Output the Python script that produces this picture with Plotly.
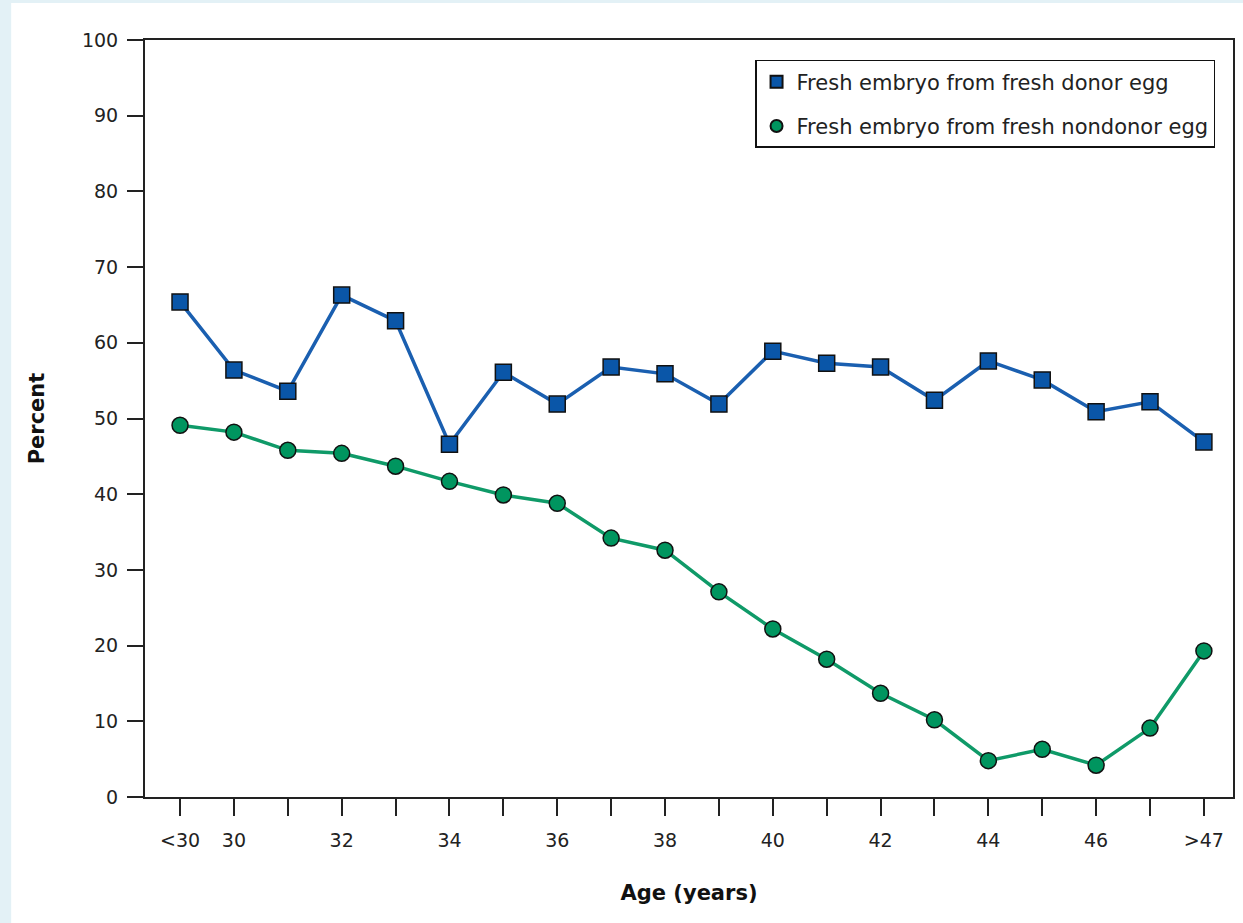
import plotly.graph_objects as go

age_labels = ["<30", "30", "31", "32", "33", "34", "35", "36", "37", "38", "39",
              "40", "41", "42", "43", "44", "45", "46", "47", ">47"]
tick_labels = ["<30", "30", "", "32", "", "34", "", "36", "", "38", "",
               "40", "", "42", "", "44", "", "46", "", ">47"]
donor = [65.4, 56.4, 53.6, 66.3, 62.9, 46.6, 56.1, 51.9, 56.8, 55.9, 51.9,
         58.9, 57.3, 56.8, 52.4, 57.6, 55.1, 50.9, 52.2, 46.9]
nondonor = [49.1, 48.2, 45.8, 45.4, 43.7, 41.7, 39.9, 38.8, 34.2, 32.6, 27.1,
            22.2, 18.2, 13.7, 10.2, 4.8, 6.3, 4.2, 9.1, 19.3]
series_names = ["Fresh embryo from fresh donor egg",
                "Fresh embryo from fresh nondonor egg"]

xi = list(range(len(age_labels)))
font = "DejaVu Sans"

blue_line, blue_fill = "#1a5fb0", "#0a56a8"
green_line, green_fill = "#0f9a68", "#00955f"
edge = dict(color="#111111", width=1.5)

fig = go.Figure()
fig.add_trace(go.Scatter(
    x=xi, y=donor, mode="lines+markers", name=series_names[0], showlegend=False,
    line=dict(color=blue_line, width=3.5),
    marker=dict(symbol="square", size=16, color=blue_fill, line=edge),
))
fig.add_trace(go.Scatter(
    x=xi, y=nondonor, mode="lines+markers", name=series_names[1], showlegend=False,
    line=dict(color=green_line, width=3.5),
    marker=dict(symbol="circle", size=16, color=green_fill, line=edge),
))
# legend entries showing only the marker symbol
fig.add_trace(go.Scatter(
    x=[None], y=[None], mode="markers", name=series_names[0], legendgroup="a",
    marker=dict(symbol="square", size=14, color=blue_fill, line=edge),
))
fig.add_trace(go.Scatter(
    x=[None], y=[None], mode="markers", name=series_names[1], legendgroup="b",
    marker=dict(symbol="circle", size=14, color=green_fill, line=edge),
))

fig.add_shape(type="rect", xref="paper", yref="paper",
              x0=-0.123, x1=1.2, y0=-0.5, y1=1.049,
              fillcolor="white", line=dict(width=0), layer="below")

fig.update_layout(
    width=1243, height=923,
    margin=dict(l=145, r=8, t=40, b=126),
    paper_bgcolor="#e3f1f6",
    plot_bgcolor="white",
    font=dict(family=font, size=19, color="#222222"),
    showlegend=True,
    legend=dict(x=0.9835, xanchor="right", y=0.9736, yanchor="top",
                bgcolor="white", bordercolor="#111111", borderwidth=1.5,
                font=dict(family=font, size=21, color="#222222"),
                itemsizing="constant", traceorder="grouped", tracegroupgap=14),
    xaxis=dict(
        range=[-0.65, 19.54],
        tickmode="array", tickvals=xi, ticktext=tick_labels,
        ticks="outside", ticklen=17, tickwidth=2, tickcolor="#222222",
        showline=True, linecolor="#222222", linewidth=2, mirror=True,
        showgrid=False, zeroline=False, ticklabelstandoff=8,
        tickfont=dict(family=font, size=19, color="#222222"),
        title=dict(text="<b>Age (years)</b>", standoff=36,
                   font=dict(family=font, size=21, color="#111111")),
    ),
    yaxis=dict(
        range=[0, 100], tickmode="linear", tick0=0, dtick=10,
        ticks="outside", ticklen=16, tickwidth=2, tickcolor="#222222",
        showline=True, linecolor="#222222", linewidth=2, mirror=True,
        showgrid=False, zeroline=False, ticklabelstandoff=5,
        tickfont=dict(family=font, size=19, color="#222222"),
        title=dict(text="<b>Percent</b>", standoff=32,
                   font=dict(family=font, size=21, color="#111111")),
    ),
)

fig.write_html("out.html", config={"displayModeBar": False},
               post_script="document.body.style.margin='0';"
                           "document.body.style.background='#e3f1f6';")
